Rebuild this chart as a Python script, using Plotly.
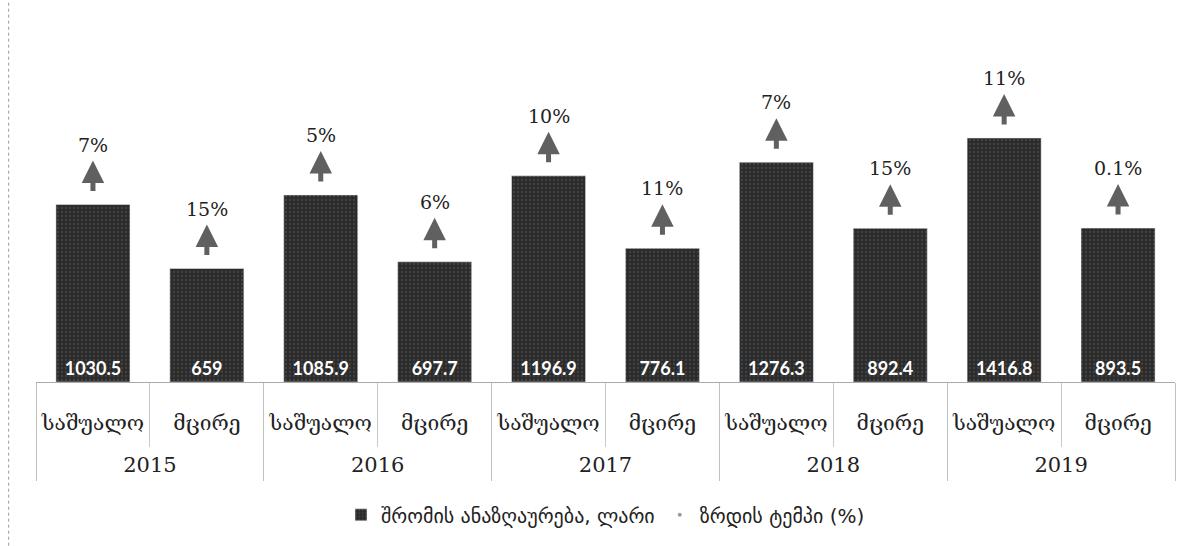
import plotly.graph_objects as go

years = ["2015", "2016", "2017", "2018", "2019"]
sizes = ["საშუალო", "მცირე"]
wages = [1030.5, 659, 1085.9, 697.7, 1196.9, 776.1, 1276.3, 892.4, 1416.8, 893.5]
growth = ["7%", "15%", "5%", "6%", "10%", "11%", "7%", "15%", "11%", "0.1%"]

n = len(wages)
per = len(sizes)
pos = list(range(n))
size_labels = [s for _ in years for s in sizes]
year_centers = [k * per + (per - 1) / 2 for k in range(len(years))]
xrange_ = [-0.5, n - 0.5]

fig = go.Figure()
fig.add_trace(go.Bar(
    x=pos, y=wages,
    name="შრომის ანაზღაურება, ლარი",
    marker=dict(color="#2b2b2b",
                pattern=dict(shape=".", fgcolor="#5a5a5a", size=4, solidity=0.25)),
    text=[f"{v:g}" for v in wages], textposition="inside", insidetextanchor="start",
    textfont=dict(color="white", size=18, family="Lato", weight="bold"), textangle=0,
    customdata=[[y] for y in years for _ in sizes],
))
# legend entry for the growth rates (the rates themselves are drawn as annotations);
# it lives on the year axis so that this axis gets drawn
fig.add_trace(go.Scatter(
    x=[None], y=[None], mode="markers", name="ზრდის ტემპი (%)",
    marker=dict(color="#9a9a9a", size=4), xaxis="x2", yaxis="y",
))

for i, (v, g) in enumerate(zip(wages, growth)):
    fig.add_annotation(x=i, y=v, xref="x", yref="y", text="", showarrow=True,
                       ax=0, ay=32, axref="pixel", ayref="pixel", yshift=44,
                       arrowhead=2, arrowsize=0.9, arrowwidth=5, arrowcolor="#606060")
    fig.add_annotation(x=i, y=v, xref="x", yref="y", text=g, showarrow=False,
                       yshift=60, yanchor="middle",
                       font=dict(family="DejaVu Serif", size=19, color="#222"))

fig.add_shape(type="line", xref="paper", yref="paper", x0=-0.024, x1=-0.024, y0=-0.44, y1=1.03,
              line=dict(color="#999", width=1, dash="dot"))

tick_font = dict(family="DejaVu Serif, DejaVu Sans", size=21, color="#222")

fig.update_layout(
    width=1187, height=546,
    margin=dict(l=36, r=12, t=10, b=164),
    paper_bgcolor="white", plot_bgcolor="white",
    bargap=0.35,
    showlegend=True,
    legend=dict(orientation="h", x=0.5, xanchor="center", y=-0.357, yanchor="middle",
                font=dict(family="DejaVu Sans", size=20, color="#222"),
                itemwidth=30, traceorder="normal"),
    xaxis=dict(range=xrange_, showline=True, linecolor="#aaa", linewidth=1,
               tickmode="array", tickvals=pos, ticktext=size_labels, ticks="",
               ticklabelstandoff=22, tickfont=tick_font, showgrid=False, zeroline=False,
               minor=dict(tickmode="linear", tick0=-0.5, dtick=1, ticks="outside",
                          ticklen=64, tickcolor="#c8c8c8", tickwidth=1, showgrid=False)),
    xaxis2=dict(range=xrange_, matches="x", overlaying="x", anchor="y", side="bottom",
                tickmode="array", tickvals=year_centers, ticktext=years, ticks="",
                ticklabelstandoff=68, tickfont=tick_font, showgrid=False, zeroline=False,
                showline=False,
                minor=dict(tickmode="linear", tick0=-0.5, dtick=per, ticks="outside",
                           ticklen=98, tickcolor="#c0c0c0", tickwidth=1, showgrid=False)),
    yaxis=dict(visible=False, range=[0, 2160]),
)

fig.write_html("out.html")
